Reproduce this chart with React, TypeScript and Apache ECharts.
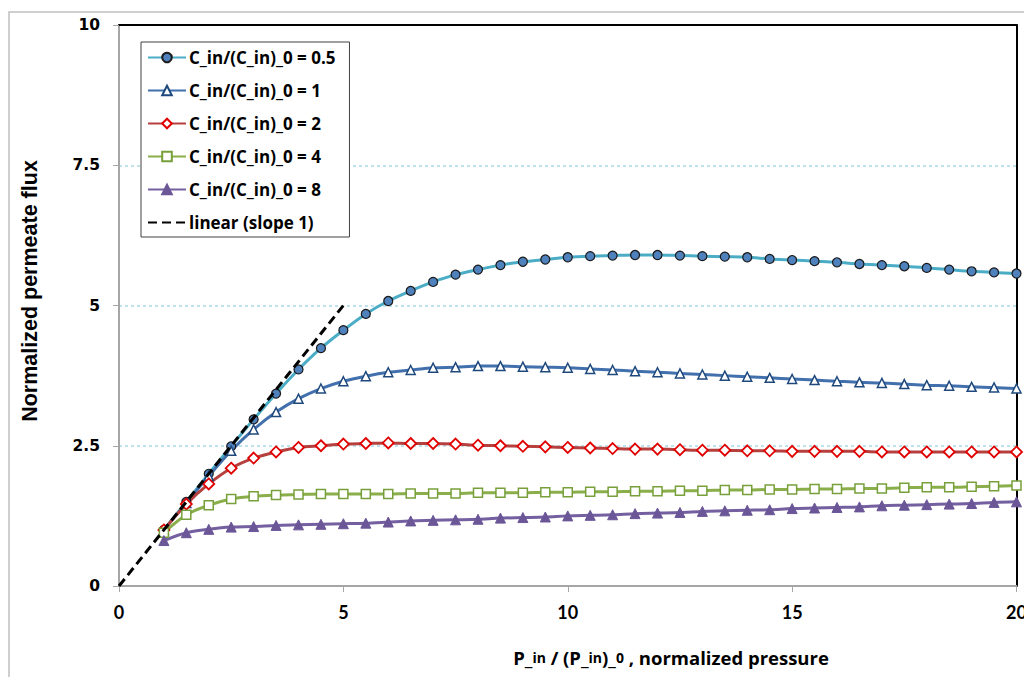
import React, { useEffect, useRef } from "react";
import * as echarts from "echarts";

const xValues = [
  1, 1.5, 2, 2.5, 3, 3.5, 4, 4.5, 5, 5.5, 6, 6.5, 7, 7.5, 8, 8.5, 9, 9.5, 10, 10.5,
  11, 11.5, 12, 12.5, 13, 13.5, 14, 14.5, 15, 15.5, 16, 16.5, 17, 17.5, 18, 18.5, 19, 19.5, 20,
];

const c05 = [
  1.0, 1.5, 2.0, 2.49, 2.97, 3.43, 3.86, 4.24, 4.56, 4.85, 5.08, 5.26, 5.42, 5.55, 5.64, 5.72,
  5.78, 5.82, 5.86, 5.88, 5.89, 5.9, 5.9, 5.89, 5.88, 5.87, 5.86, 5.83, 5.81, 5.79, 5.77, 5.74,
  5.72, 5.7, 5.67, 5.64, 5.61, 5.59, 5.57,
];
const c1 = [
  1.0, 1.48, 1.96, 2.41, 2.79, 3.1, 3.34, 3.52, 3.65, 3.74, 3.81, 3.85, 3.89, 3.9, 3.92, 3.92,
  3.91, 3.9, 3.89, 3.87, 3.85, 3.83, 3.81, 3.79, 3.77, 3.75, 3.73, 3.71, 3.69, 3.67, 3.65, 3.63,
  3.62, 3.6, 3.58, 3.57, 3.55, 3.54, 3.52,
];
const c2 = [
  1.0, 1.46, 1.82, 2.1, 2.28, 2.39, 2.47, 2.5, 2.53, 2.54, 2.55, 2.54, 2.54, 2.53, 2.51, 2.5,
  2.49, 2.48, 2.47, 2.46, 2.45, 2.44, 2.44, 2.43, 2.42, 2.42, 2.41, 2.41, 2.4, 2.4, 2.4, 2.4,
  2.39, 2.39, 2.39, 2.39, 2.39, 2.39, 2.39,
];
const c4 = [
  0.95, 1.27, 1.44, 1.55, 1.6, 1.62, 1.63, 1.64, 1.64, 1.64, 1.64, 1.65, 1.65, 1.65, 1.66, 1.66,
  1.66, 1.67, 1.67, 1.68, 1.68, 1.69, 1.69, 1.7, 1.7, 1.71, 1.71, 1.72, 1.72, 1.73, 1.73, 1.74,
  1.74, 1.75, 1.76, 1.76, 1.77, 1.78, 1.79,
];
const c8 = [
  0.81, 0.95, 1.01, 1.05, 1.06, 1.08, 1.09, 1.1, 1.11, 1.12, 1.14, 1.16, 1.17, 1.18, 1.19, 1.21,
  1.22, 1.23, 1.25, 1.26, 1.27, 1.29, 1.3, 1.31, 1.33, 1.34, 1.35, 1.36, 1.38, 1.39, 1.4, 1.41,
  1.43, 1.44, 1.45, 1.46, 1.47, 1.49, 1.5,
];
const linearX = [0, 5];
const linearY = [0, 5];

const seriesNames = [
  "C_in/(C_in)_0 = 0.5",
  "C_in/(C_in)_0 = 1",
  "C_in/(C_in)_0 = 2",
  "C_in/(C_in)_0 = 4",
  "C_in/(C_in)_0 = 8",
  "linear (slope 1)",
];
const xTicks = [0, 5, 10, 15, 20];
const yTicks = [0, 2.5, 5, 7.5, 10];

const pairs = (xs: number[], ys: number[]) => xs.map((x, i) => [x, ys[i]]);

export default function App() {
  const ref = useRef<HTMLDivElement>(null);
  useEffect(() => {
    if (!ref.current) return;
    const chart = echarts.init(ref.current, undefined, { renderer: "svg" });
    const mk = (
      name: string,
      ys: number[],
      lineColor: string,
      symbol: string,
      size: number,
      fill: string,
      border: string,
      bw: number
    ) => ({
      name,
      type: "line",
      data: pairs(xValues, ys),
      smooth: 0.3,
      symbol,
      symbolSize: size,
      showSymbol: true,
      lineStyle: { color: lineColor, width: 3 },
      itemStyle: { color: fill, borderColor: border, borderWidth: bw },
      emphasis: { disabled: true },
    });
    const hiddenAxis = {
      axisTick: { show: false },
      axisLabel: { show: false },
      splitLine: { show: false },
    };
    chart.setOption({
      animation: false,
      backgroundColor: "#ffffff",
      grid: {
        left: 119,
        right: 7.5,
        top: 25,
        bottom: 91,
        outerBoundsMode: "none",
        containLabel: false,
      },
      xAxis: [
        {
          type: "value",
          min: 0,
          max: 20,
          interval: 5,
          axisLine: { show: true, onZero: false, lineStyle: { color: "#a6a6a6", width: 2 } },
          axisTick: { show: true, length: 6, lineStyle: { color: "#a6a6a6", width: 1 } },
          axisLabel: {
            margin: 17,
            color: "#000",
            fontFamily: "Lato",
            fontWeight: "bold",
            fontSize: 18,
            formatter: (v: number) => (xTicks.includes(v) ? String(v) : ""),
          },
          splitLine: { show: false },
        },
        {
          type: "value",
          position: "top",
          min: 0,
          max: 20,
          interval: 5,
          axisLine: { show: true, onZero: false, lineStyle: { color: "#000000", width: 2 } },
          ...hiddenAxis,
        },
      ],
      yAxis: [
        {
          type: "value",
          min: 0,
          max: 10,
          interval: 2.5,
          axisLine: { show: true, onZero: false, lineStyle: { color: "#a6a6a6", width: 2 } },
          axisTick: { show: true, length: 6, lineStyle: { color: "#a6a6a6", width: 1 } },
          axisLabel: {
            margin: 19,
            color: "#000",
            fontFamily: "DejaVu Sans",
            fontWeight: "bold",
            fontSize: 15.5,
            formatter: (v: number) => (yTicks.includes(v) ? String(v) : ""),
          },
          splitLine: {
            show: true,
            lineStyle: { color: "#a9d9e6", type: [3, 3], width: 1.5 },
          },
        },
        {
          type: "value",
          position: "right",
          min: 0,
          max: 10,
          interval: 2.5,
          axisLine: { show: true, onZero: false, lineStyle: { color: "#000000", width: 2 } },
          ...hiddenAxis,
        },
      ],
      legend: {
        orient: "vertical",
        left: 141,
        top: 42,
        data: seriesNames.map((n, i) =>
          i === 5 ? { name: n, itemStyle: { opacity: 0 } } : { name: n }
        ),
        backgroundColor: "#ffffff",
        borderColor: "#404040",
        borderWidth: 1,
        padding: [7, 14, 6, 6],
        itemWidth: 38,
        itemHeight: 12,
        itemGap: 16,
        textStyle: {
          fontFamily: "Open Sans",
          fontWeight: "bold",
          fontSize: 17,
          color: "#000",
          padding: [0, 0, 0, -2],
        },
        z: 10,
      },
      graphic: [
        {
          type: "rect",
          shape: { x: 9, y: 12, width: 1100, height: 800 },
          style: { fill: "none", stroke: "#c0c0c0", lineWidth: 1.5 },
          silent: true,
          z: -10,
        },
        {
          type: "text",
          x: 30,
          y: 291,
          rotation: Math.PI / 2,
          style: {
            text: "Normalized permeate flux",
            fontFamily: "Liberation Sans",
            fontWeight: "bold",
            fontSize: 21.5,
            fill: "#000",
            textAlign: "center",
            textVerticalAlign: "middle",
          },
        },
        {
          type: "text",
          x: 671,
          y: 657,
          style: {
            text: "{a|P_}{s|in}{a| / (P_}{s|in}{a|)_}{s|0}{a| , normalized pressure}",
            rich: {
              a: { fontFamily: "Open Sans", fontWeight: "bold", fontSize: 18.5, fill: "#000" },
              s: { fontFamily: "Open Sans", fontWeight: "bold", fontSize: 14, fill: "#000" },
            },
            textAlign: "center",
            textVerticalAlign: "middle",
          },
        },
      ],
      series: [
        mk(seriesNames[0], c05, "#4bacc6", "circle", 9, "#4f81bd", "#1a1a1a", 1.2),
        mk(seriesNames[1], c1, "#4170ad", "triangle", 9, "#ffffff", "#1f497d", 1.5),
        mk(seriesNames[2], c2, "#b5403e", "diamond", 11, "#ffffff", "#e00000", 1.8),
        mk(seriesNames[3], c4, "#8aae4a", "rect", 9, "#ffffff", "#77a03a", 1.5),
        mk(seriesNames[4], c8, "#7460a0", "triangle", 10, "#6b5697", "#6b5697", 1),
        {
          name: seriesNames[5],
          type: "line",
          data: pairs(linearX, linearY),
          symbol: "none",
          lineStyle: { color: "#000000", width: 3, type: [9, 5] },
          itemStyle: { color: "#000000" },
          emphasis: { disabled: true },
          z: 5,
        },
      ],
    });
    return () => chart.dispose();
  }, []);
  return (
    <div
      ref={ref}
      style={{ position: "fixed", left: 0, top: 0, width: 1024, height: 677 }}
    />
  );
}
